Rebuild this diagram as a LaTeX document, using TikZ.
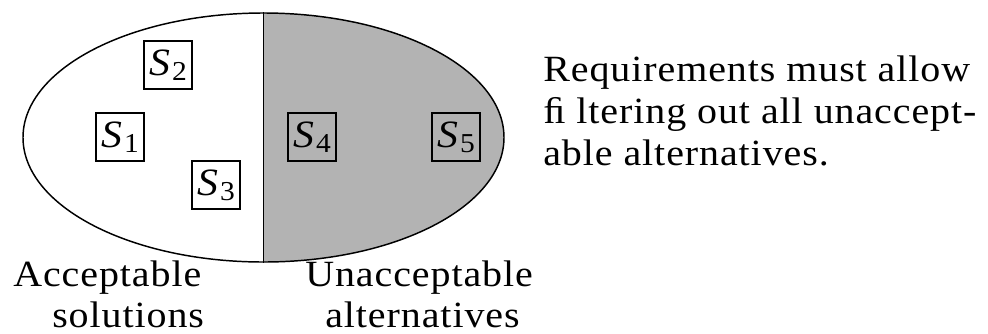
\documentclass[tikz,border=0pt]{standalone}
\usepackage{fontspec}
\setmainfont{Liberation Serif}[FakeStretch=1.08, LetterSpace=2.5]
\usetikzlibrary{shapes.geometric}
\definecolor{halfgray}{RGB}{179,179,179}
\newcommand{\Slab}[1]{\fontsize{29}{29}\selectfont\itshape S\/\kern1pt\raisebox{-3.5pt}{\fontsize{20.5}{20.5}\selectfont\upshape #1}}
\tikzset{
  sbox/.style={draw, line width=0.8pt, minimum size=36pt, inner sep=0pt},
  lbl/.style={anchor=base west, inner sep=0pt, font=\fontsize{27.75}{32}\selectfont},
}
\begin{document}
\begin{tikzpicture}[x=0.75pt, y=-0.75pt]
\useasboundingbox (0,0) rectangle (988,333);
\begin{scope}
  \clip (264,0) rectangle (988,333);
  \fill[halfgray] (263.5,137.5) ellipse [x radius=180.375pt, y radius=93.375pt];
\end{scope}
\node[ellipse, draw, line width=1.1pt, minimum width=360.75pt, minimum height=186.75pt, inner sep=0pt] (set) at (263.5,137.5) {};
\draw[line width=1pt] (set.north) -- (set.south);
\node[sbox] (s2) at (168,65) {\Slab{2}};
\node[sbox] (s1) at (120,137) {\Slab{1}};
\node[sbox] (s3) at (216,185) {\Slab{3}};
\node[sbox] (s4) at (312,137) {\Slab{4}};
\node[sbox] (s5) at (456,137) {\Slab{5}};
\node[lbl] (r1) at (543,81) {Requirements must allow};
\node[lbl] (r2) at (543,123) {ﬁ ltering out all unaccept-};
\node[lbl] (r3) at (543,165) {able alternatives.};
\node[lbl] (a1) at (13,286) {Acceptable};
\node[lbl] (a2) at (52,327) {solutions};
\node[lbl] (u1) at (305,286) {Unacceptable};
\node[lbl] (u2) at (325,327) {alternatives};
\end{tikzpicture}
\end{document}
